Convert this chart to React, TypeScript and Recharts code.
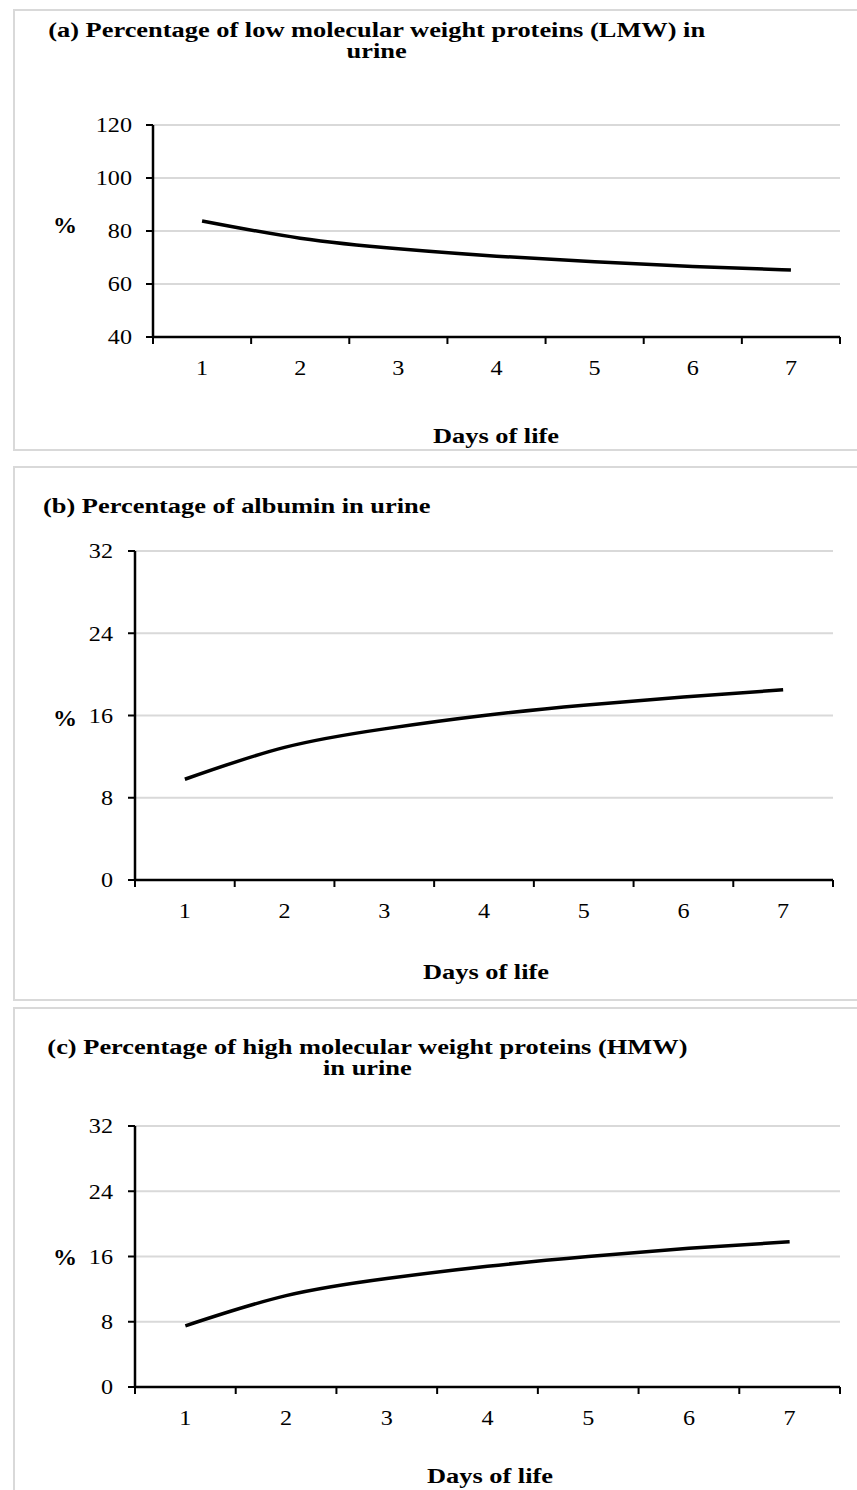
import { LineChart, Line, XAxis, YAxis, CartesianGrid } from "recharts";

const days = [1, 2, 3, 4, 5, 6, 7];
// Excel-style ticks sit between categories
const dayBoundaries = [0.5, 1.5, 2.5, 3.5, 4.5, 5.5, 6.5, 7.5];

const lmwValues = [83.8, 77.3, 73.3, 70.5, 68.4, 66.6, 65.3];
const albuminValues = [9.8, 12.9, 14.7, 16.0, 17.0, 17.8, 18.5];
const hmwValues = [7.5, 11.2, 13.3, 14.8, 16.0, 17.0, 17.8];

const lmwTicks = [40, 60, 80, 100, 120];
const albuminTicks = [0, 8, 16, 24, 32];
const hmwTicks = [0, 8, 16, 24, 32];

const FONT = "'Liberation Serif', 'Times New Roman', serif";
const GRID = "#d9d9d9";
// the original figure is stretched sideways
const STRETCH = 1.32;
const TICK_STRETCH = 1.15;

const YTick = (props: any) => (
	<text
		transform={`translate(${props.x},${props.y}) scale(${TICK_STRETCH},1)`}
		textAnchor="end"
		dy="0.35em"
		fill="#000"
		fontSize={21}
		fontFamily={FONT}>
		{props.payload.value}
	</text>
);

const XTick = (props: any) => (
	<text
		transform={`translate(${props.x},${props.y}) scale(${TICK_STRETCH},1)`}
		textAnchor="middle"
		dy="0.71em"
		fill="#000"
		fontSize={21}
		fontFamily={FONT}>
		{props.payload.value}
	</text>
);

type PanelProps = {
	values: number[];
	yTicks: number[];
	top: number;
	height: number;
	margin: { top: number; right: number; bottom: number; left: number };
	yWidth: number;
	yMargin: number;
};

const Panel = ({ values, yTicks, top, height, margin, yWidth, yMargin }: PanelProps) => {
	const data = days.map((d, i) => ({ day: d, value: values[i] }));
	return (
		<div style={{ position: "absolute", left: 0, top }}>
			<LineChart width={857} height={height} data={data} margin={margin} style={{ fontFamily: FONT }}>
				<CartesianGrid vertical={false} stroke={GRID} strokeWidth={2} xAxisId="b_days" />
				<XAxis
					xAxisId="b_days"
					dataKey="day"
					type="number"
					domain={[0.5, 7.5]}
					ticks={days}
					interval={0}
					height={60}
					axisLine={false}
					tickLine={false}
					tickSize={0}
					tickMargin={22}
					tick={(p: any) => <XTick {...p} />}
				/>
				<XAxis
					xAxisId="a_ticks"
					dataKey="day"
					type="number"
					domain={[0.5, 7.5]}
					ticks={dayBoundaries}
					interval={0}
					height={1}
					tickFormatter={() => ""}
					tickSize={7}
					axisLine={{ stroke: "#000", strokeWidth: 2.5 }}
					tickLine={{ stroke: "#000", strokeWidth: 2 }}
				/>
				<YAxis
					width={yWidth}
					domain={[yTicks[0], yTicks[yTicks.length - 1]]}
					ticks={yTicks}
					interval={0}
					tickSize={7}
					tickMargin={yMargin}
					axisLine={{ stroke: "#000", strokeWidth: 2.5 }}
					tickLine={{ stroke: "#000", strokeWidth: 2 }}
					tick={(p: any) => <YTick {...p} />}
				/>
				<Line
					xAxisId="b_days"
					type="natural"
					dataKey="value"
					stroke="#000"
					strokeWidth={3.5}
					dot={false}
					isAnimationActive={false}
				/>
			</LineChart>
		</div>
	);
};

const boxStyle = (top: number, height: number): React.CSSProperties => ({
	position: "absolute",
	left: 13,
	top,
	width: 850,
	height,
	border: `2px solid ${GRID}`,
	borderRight: "none",
	boxSizing: "border-box"
});

const textStyle = (left: number, top: number, width: number, align: "left" | "center"): React.CSSProperties => ({
	position: "absolute",
	left,
	top,
	width,
	textAlign: align,
	fontFamily: FONT,
	fontWeight: "bold",
	fontSize: 20,
	lineHeight: "21px",
	whiteSpace: "nowrap",
	transform: `scaleX(${STRETCH})`,
	transformOrigin: "0 0"
});

const percentStyle = (top: number): React.CSSProperties => ({
	position: "absolute",
	left: 53,
	top,
	fontFamily: FONT,
	fontWeight: "bold",
	fontSize: 24,
	lineHeight: "24px"
});

// centred title under the plot, width given in unstretched pixels
const axisTitle = (centerX: number, top: number): React.CSSProperties =>
	textStyle(centerX - (150 * STRETCH) / 2, top, 150, "center");

export default function App() {
	return (
		<div
			style={{
				position: "absolute",
				left: 0,
				top: 0,
				width: 857,
				height: 1490,
				overflow: "hidden",
				background: "#fff"
			}}>
			<div style={boxStyle(9, 442)} />
			<div style={boxStyle(466, 535)} />
			<div style={boxStyle(1007, 520)} />

			<Panel
				values={lmwValues}
				yTicks={lmwTicks}
				top={0}
				height={450}
				margin={{ top: 125, right: 17, bottom: 52, left: 0 }}
				yWidth={153}
				yMargin={14}
			/>
			<Panel
				values={albuminValues}
				yTicks={albuminTicks}
				top={460}
				height={540}
				margin={{ top: 91, right: 24, bottom: 59, left: 0 }}
				yWidth={135}
				yMargin={15}
			/>
			<Panel
				values={hmwValues}
				yTicks={hmwTicks}
				top={1005}
				height={485}
				margin={{ top: 121, right: 17, bottom: 42, left: 0 }}
				yWidth={135}
				yMargin={15}
			/>

			<div style={textStyle(44, 20, 504, "center")}>
				(a) Percentage of low molecular weight proteins (LMW) in
				<br />
				urine
			</div>
			<div style={percentStyle(213)}>%</div>
			<div style={axisTitle(496, 426)}>Days of life</div>

			<div style={textStyle(43, 496, 400, "left")}>(b) Percentage of albumin in urine</div>
			<div style={percentStyle(706)}>%</div>
			<div style={axisTitle(486, 962)}>Days of life</div>

			<div style={textStyle(44, 1037, 490, "center")}>
				(c) Percentage of high molecular weight proteins (HMW)
				<br />
				in urine
			</div>
			<div style={percentStyle(1245)}>%</div>
			<div style={axisTitle(490, 1466)}>Days of life</div>
		</div>
	);
}
